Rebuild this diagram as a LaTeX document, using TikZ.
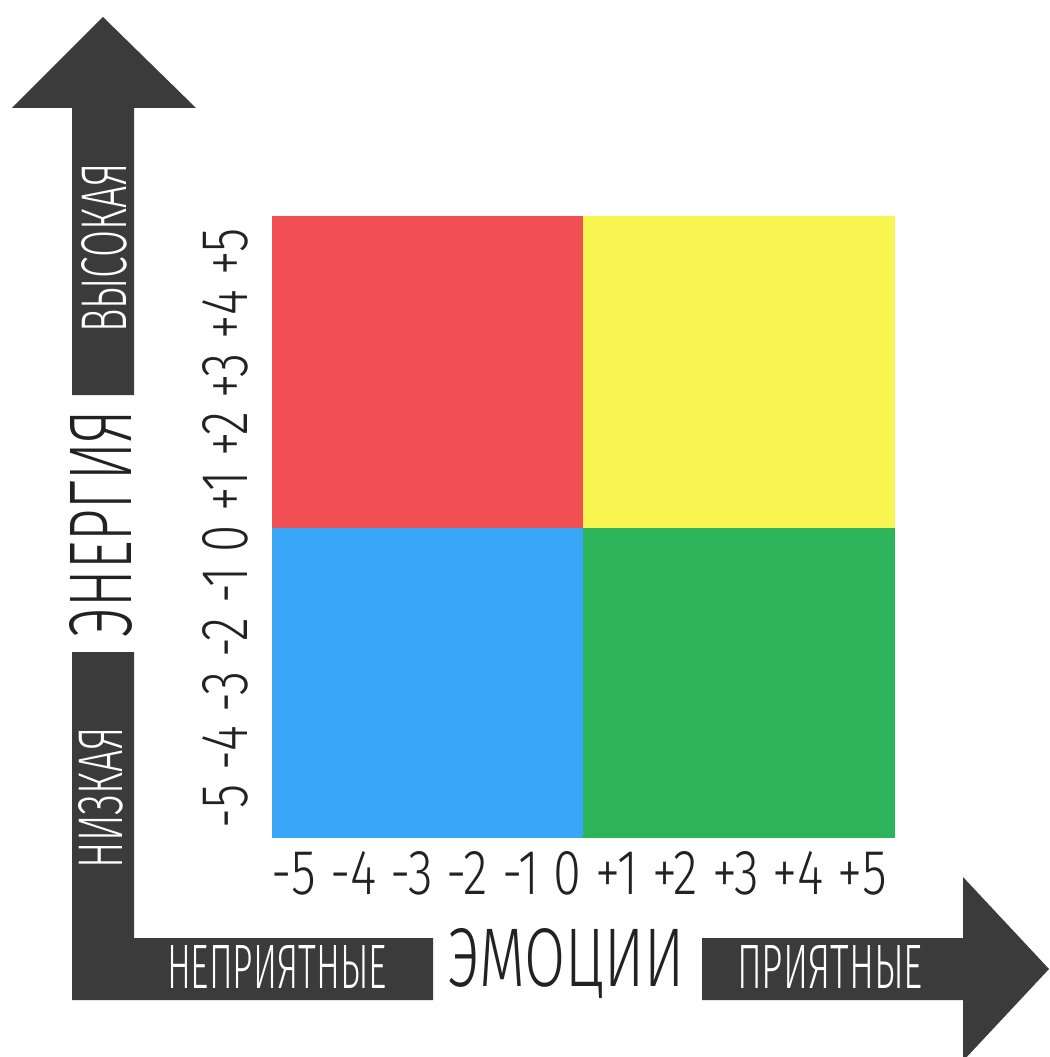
\documentclass[tikz,border=0pt]{standalone}
\usepackage{fontspec}
\newfontfamily\thinf{Fira Sans}[UprightFont={* Light}]
\definecolor{barc}{HTML}{3B3B3B}
\definecolor{qred}{HTML}{F24F55}
\definecolor{qyel}{HTML}{F8F551}
\definecolor{qblue}{HTML}{38A5F7}
\definecolor{qgreen}{HTML}{2DB45A}
\definecolor{txtc}{HTML}{222222}
\begin{document}
\begin{tikzpicture}[x=0.02cm,y=-0.02cm,
  bar/.style={fill=barc,draw=none},
  quad/.style={draw=none},
  lbl/.style={inner sep=0pt,outer sep=0pt,text=txtc},
  wlbl/.style={inner sep=0pt,outer sep=0pt,text=white}]
\useasboundingbox (0,0) rectangle (1049,1057);
\fill[white] (0,0) rectangle (1049,1057);
\begin{scope}
\clip (0,0) rectangle (1049,1057);
% vertical arrow (top part)
\fill[bar] (103,17) -- (196,108) -- (134,108) -- (134,395) -- (72,395) -- (72,108) -- (12,108) -- cycle;
% L corner part
\fill[bar] (72,652) -- (134,652) -- (134,938) -- (433,938) -- (433,1000) -- (72,1000) -- cycle;
% horizontal arrow (right part)
\fill[bar] (702,938) -- (963,938) -- (963,877) -- (1049,969) -- (963,1061) -- (963,1000) -- (702,1000) -- cycle;
\end{scope}
% quadrants
\fill[qred]   (272,216) rectangle (583,528);
\fill[qyel]   (583,216) rectangle (895,528);
\fill[qblue]  (272,528) rectangle (583,838);
\fill[qgreen] (583,528) rectangle (895,838);
% labels on bars
\node[wlbl,rotate=90] (high) at (104.5,248) {\resizebox{3.4cm}{0.9cm}{\thinf ВЫСОКАЯ}};
\node[wlbl,rotate=90] (low) at (101,797.5) {\resizebox{2.82cm}{0.88cm}{\thinf НИЗКАЯ}};
\node[lbl,rotate=90] (energy) at (101,523.5) {\resizebox{4.54cm}{1.24cm}{\thinf ЭНЕРГИЯ}};
\node[wlbl] (unpleasant) at (277,966.5) {\resizebox{4.4cm}{0.86cm}{\thinf НЕПРИЯТНЫЕ}};
\node[lbl] (emotions) at (566.5,964) {\resizebox{4.74cm}{1.16cm}{\thinf ЭМОЦИИ}};
\node[wlbl] (pleasant) at (830,966.5) {\resizebox{3.72cm}{0.86cm}{\thinf ПРИЯТНЫЕ}};
% tick labels
\node[lbl,rotate=90] (yticks) at (225.5,528) {\resizebox{12cm}{0.9cm}{\thinf -5 -4 -3 -2 -1 0 +1 +2 +3 +4 +5}};
\node[lbl] (xticks) at (579.5,873.5) {\resizebox{12.3cm}{0.86cm}{\thinf -5 -4 -3 -2 -1 0 +1 +2 +3 +4 +5}};
\end{tikzpicture}
\end{document}
